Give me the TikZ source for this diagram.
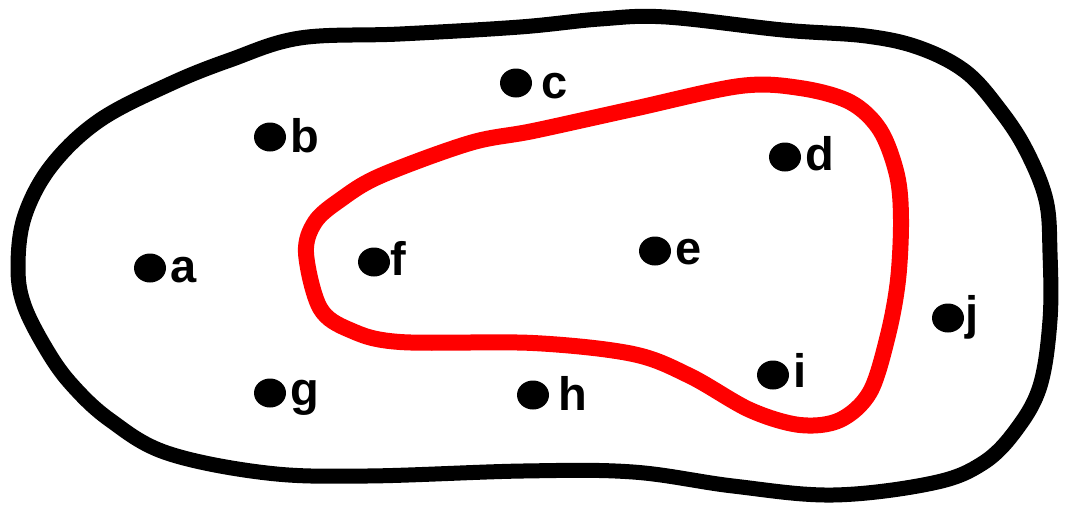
\documentclass[tikz,border=0pt]{standalone}
\usepackage{fontspec}
\setmainfont{Liberation Sans}
\usetikzlibrary{shapes.geometric}
\begin{document}
\begin{tikzpicture}[x=1pt,y=-1pt,
  dot/.style={ellipse,fill=black,inner sep=0pt,minimum width=32pt,minimum height=29pt},
  lab/.style={anchor=base west,inner sep=0pt,font=\fontsize{47}{47}\selectfont\bfseries},
  outer/.style={draw=black,line width=15pt,line join=round},
  inner/.style={draw=red,line width=16pt,line join=round}]
\useasboundingbox (0,0) rectangle (1073,506);
\fill[white] (0,0) rectangle (1073,506);
% outer set
\path[outer] plot[smooth cycle,tension=0.6] coordinates {
(520,27) (400,34) (300,38) (230,60) (170,84) (100,120) (52,165)
(25,215) (18,265) (24,305) (48,352) (73,386) (110,420)
(167,453) (267,473) (367,476) (523,471)
(633,472) (733,486) (833,495) (933,483) (983,463) (1016,430) (1040,386)
(1050,320) (1050,253) (1046,200) (1026,150) (1000,110) (966,72) (920,48)
(866,36) (783,30) (666,17) (600,19)};
% inner set
\path[inner] plot[smooth cycle,tension=0.55] coordinates {
(306,253) (315,222) (340,200) (380,176) (470,143) (533,131) (633,109)
(740,86) (800,88) (850,102) (880,130) (897,175) (901,220) (898,280)
(888,335) (870,392) (840,420) (800,425) (750,410) (690,376) (633,354)
(533,343) (400,342) (350,330) (320,308)};
% points
\node[dot] (a) at (150,268) {};
\node[dot] (b) at (270,137) {};
\node[dot] (c) at (516,83) {};
\node[dot] (d) at (785,157) {};
\node[dot] (e) at (655,251) {};
\node[dot] (f) at (374,262) {};
\node[dot] (g) at (270,393) {};
\node[dot] (h) at (533,395) {};
\node[dot] (i) at (773,375) {};
\node[dot] (j) at (948,318) {};
\node[lab] (la) at ([xshift=20pt,yshift=-14pt]a.center) {a};
\node[lab] (lb) at ([xshift=20pt,yshift=-15pt]b.center) {b};
\node[lab] (lc) at ([xshift=25pt,yshift=-15pt]c.center) {c};
\node[lab] (ld) at ([xshift=20pt,yshift=-13pt]d.center) {d};
\node[lab] (le) at ([xshift=20pt,yshift=-13pt]e.center) {e};
\node[lab] (lf) at ([xshift=16pt,yshift=-13pt]f.center) {f};
\node[lab] (lg) at ([xshift=20pt,yshift=-12pt]g.center) {g};
\node[lab] (lh) at ([xshift=25pt,yshift=-15pt]h.center) {h};
\node[lab] (li) at ([xshift=20pt,yshift=-12pt]i.center) {i};
\node[lab] (lj) at ([xshift=17pt,yshift=-11pt]j.center) {j};
\end{tikzpicture}
\end{document}
